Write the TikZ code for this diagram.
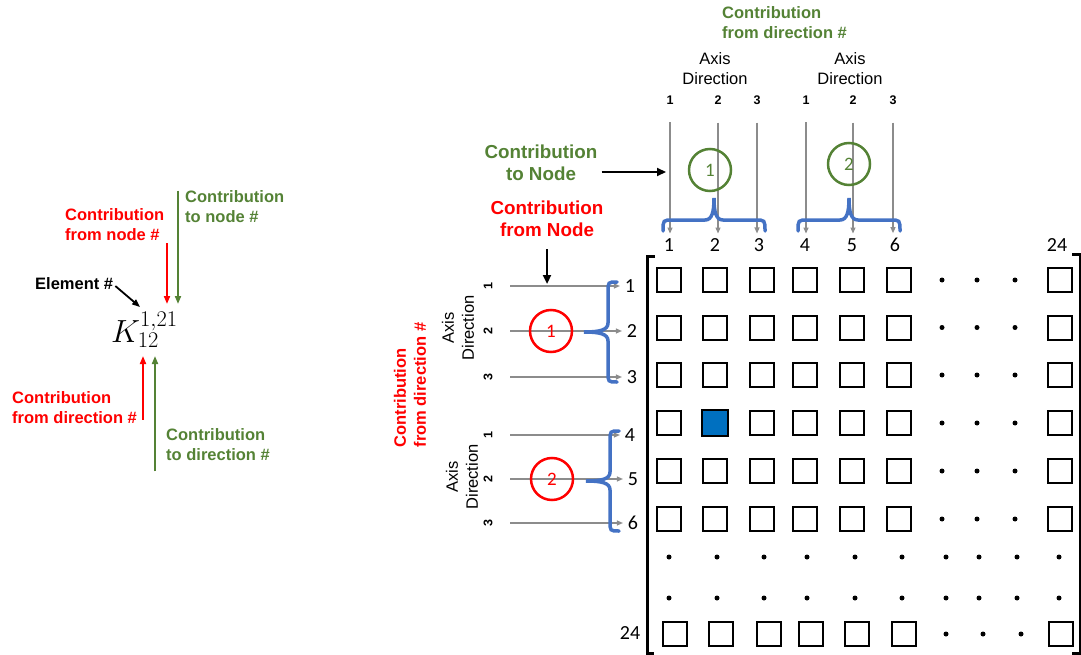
\RequirePackage{fix-cm}
\documentclass[tikz,border=0pt]{standalone}
\usepackage{fontspec}
\setmainfont{Liberation Sans}
\newfontfamily\numfont{Carlito}
\usetikzlibrary{arrows.meta}

\definecolor{fromred}{RGB}{255,0,0}
\definecolor{togreen}{RGB}{84,130,53}
\definecolor{braceblue}{RGB}{68,114,196}
\definecolor{cellblue}{RGB}{0,112,192}

\tikzset{
  lbl/.style={font=\fontsize{16.5}{20}\selectfont\bfseries, align=left, inner sep=0pt},
  biglbl/.style={font=\fontsize{18.8}{22}\selectfont\bfseries, align=center, inner sep=0pt},
  axislbl/.style={font=\fontsize{16.5}{20}\selectfont, align=center, inner sep=0pt},
  dig/.style={font=\fontsize{12.5}{12.5}\selectfont\bfseries, inner sep=0pt},
  num/.style={font=\numfont\fontsize{20}{20}\selectfont, inner sep=2pt, outer sep=3pt},
  ring/.style={circle, draw, line width=2.5pt, minimum size=42pt, inner sep=0pt,
    font=\numfont\fontsize{19}{19}\selectfont},
  cell/.style={draw, line width=2pt, minimum size=24pt, inner sep=0pt},
  tagarrow/.style={line width=1.8pt, -{Triangle[length=8pt,width=6pt]}},
  blkarrow/.style={line width=2.2pt, -{Triangle[length=9pt,width=8pt]}},
  grayarrow/.style={black!45, line width=1.2pt, -{Triangle[length=6pt,width=5pt]}},
  bluebrace/.style={braceblue, line width=3.5pt, line cap=round},
}

\begin{document}
\begin{tikzpicture}[x=1pt,y=-1pt]
  \useasboundingbox (0,0) rectangle (1081,655);

  % the stiffness term and what each index means
  \node[anchor=base west, inner sep=0pt, font=\fontsize{32}{32}\selectfont] (K) at (111,342) {$K_{12}^{1,21}$};
  \node[lbl, anchor=west] (elem) at (35,284) {Element \#};
  \node[lbl, anchor=west, text=fromred] (fromnode) at (65,225) {Contribution\\from node \#};
  \node[lbl, anchor=west, text=togreen] (tonode) at (185,207) {Contribution\\to node \#};
  \node[lbl, anchor=west, text=fromred] (fromdir) at (12,407.5) {Contribution\\from direction \#};
  \node[lbl, anchor=west, text=togreen] (todir) at (166,445) {Contribution\\to direction \#};

  \coordinate (kelem) at (140,307);
  \coordinate (kfromnode) at (167,304);
  \coordinate (ktonode) at (178,304);
  \coordinate (kfromdir) at (143,356);
  \coordinate (ktodir) at (155,356);

  \draw[tagarrow] ([xshift=2pt,yshift=-2pt]elem.east) -- (kelem);
  \draw[tagarrow, fromred] ([yshift=-2pt]fromnode.south east -| kfromnode) -- (kfromnode);
  \draw[tagarrow, togreen] (tonode.north -| ktonode) -- (ktonode);
  \draw[tagarrow, fromred] ([yshift=4pt]fromdir.south -| kfromdir) -- (kfromdir);
  \draw[tagarrow, togreen] ([yshift=-10pt]todir.south -| ktodir) -- (ktodir);

  % column side: nodes 1 and 2, three directions each
  \node[lbl, anchor=west, text=togreen] (fromdirtop) at (722,23) {Contribution\\from direction \#};
  \node[axislbl] (axtop1) at (715,69) {Axis\\Direction};
  \node[axislbl] (axtop2) at (850,69) {Axis\\Direction};

  \foreach \x/\t/\i in {670/1/1,718/2/2,757/3/3,806/1/4,853/2/5,893/3/6}
    \node[dig] (d\i) at (\x,100) {\t};
  \foreach \x/\i in {669/1,715/2,759/3,805/4,852/5,895/6}
    \node[num] (c\i) at (\x,245) {\i};
  \node[num] (c24) at (1057,245) {24};

  \foreach \i in {1,...,6}
    \draw[grayarrow, shorten <=18pt] (d\i.south) -- (d\i.south |- c\i.north);

  \node[ring, draw=togreen, text=togreen] (n1) at (710,170) {1};
  \node[ring, draw=togreen, text=togreen] (n2) at (849,164) {2};

  \foreach \xm in {714,849}
    \draw[bluebrace] (\xm-51,231) .. controls (\xm-51,220) .. (\xm-41,220) -- (\xm-9,220)
      .. controls (\xm-2,220) and (\xm,212) .. (\xm,198)
      .. controls (\xm,212) and (\xm+2,220) .. (\xm+9,220) -- (\xm+41,220)
      .. controls (\xm+51,220) .. (\xm+51,231);

  \node[biglbl, text=togreen] (tonode2) at (541,163) {Contribution\\to Node};
  \coordinate (tocol) at (666,172);
  \draw[blkarrow] ([xshift=4pt,yshift=-9pt]tonode2.east) -- (tocol);

  % row side: nodes 1 and 2, three directions each
  \node[biglbl, text=fromred] (fromnode2) at (547,219) {Contribution\\from Node};
  \node[lbl, text=fromred, rotate=90] (fromdirleft) at (410,385) {Contribution\\from direction \#};
  \node[axislbl, rotate=90] (axleft1) at (458,328) {Axis\\Direction};
  \node[axislbl, rotate=90] (axleft2) at (462,477) {Axis\\Direction};

  \foreach \y/\t/\i in {286/1/1,331/2/2,377/3/3,435/1/4,479/2/5,523/3/6}
    \node[dig, rotate=90] (e\i) at (488,\y) {\t};
  \foreach \x/\y/\i in {630/286/1,632/331/2,632/377/3,630/435/4,633/479/5,633/523/6}
    \node[num] (r\i) at (\x,\y) {\i};
  \node[num] (r24) at (630,633) {24};

  \foreach \i in {1,...,6}
    \draw[grayarrow] ([xshift=22pt]e\i.center) -- (e\i.center -| r\i.west);

  \draw[blkarrow, shorten >=2pt] ([yshift=-12pt]fromnode2.south) -- (fromnode2.south |- r1.west);

  \node[ring, draw=fromred, text=fromred] (m1) at (551,331) {1};
  \node[ring, draw=fromred, text=fromred] (m2) at (552,479) {2};

  \foreach \ym/\xb in {332/608,481/610}
    \draw[bluebrace] (\xb+9,\ym-50) .. controls (\xb,\ym-50) .. (\xb,\ym-40) -- (\xb,\ym-9)
      .. controls (\xb,\ym-2) and (\xb-8,\ym) .. (\xb-24,\ym)
      .. controls (\xb-8,\ym) and (\xb,\ym+2) .. (\xb,\ym+9) -- (\xb,\ym+40)
      .. controls (\xb,\ym+50) .. (\xb+9,\ym+50);

  % the 24 x 24 matrix
  \draw[line width=3pt] (655,256) -- (647,256) -- (647,653) -- (654,653);
  \draw[line width=3pt] (1072,254) -- (1080,254) -- (1080,653) -- (1072,653);

  \foreach \y [count=\i] in {280,327.5,375,423,471,519} {
    \foreach \x [count=\j] in {669,715,762,805,852,899}
      \node[cell] (k\i-\j) at (\x,\y) {};
    \node[cell] (k\i-24) at (1060,\y) {};
    \foreach \x in {942,977,1015}
      \fill (\x,\y) circle (2.5pt);
  }
  \foreach \x [count=\j] in {675,721,769,811,857,904}
    \node[cell] (k24-\j) at (\x,634) {};
  \node[cell] (k24-24) at (1061,634) {};
  \foreach \x in {946,983,1021}
    \fill (\x,634) circle (2.5pt);

  \foreach \y in {557,598}
    \foreach \x in {669,717,764,807,855,902,946,979,1017,1059}
      \fill (\x,\y) circle (2.5pt);

  \draw[line width=2pt, fill=cellblue] (k4-2.north west) rectangle (k4-2.south east);
\end{tikzpicture}
\end{document}
